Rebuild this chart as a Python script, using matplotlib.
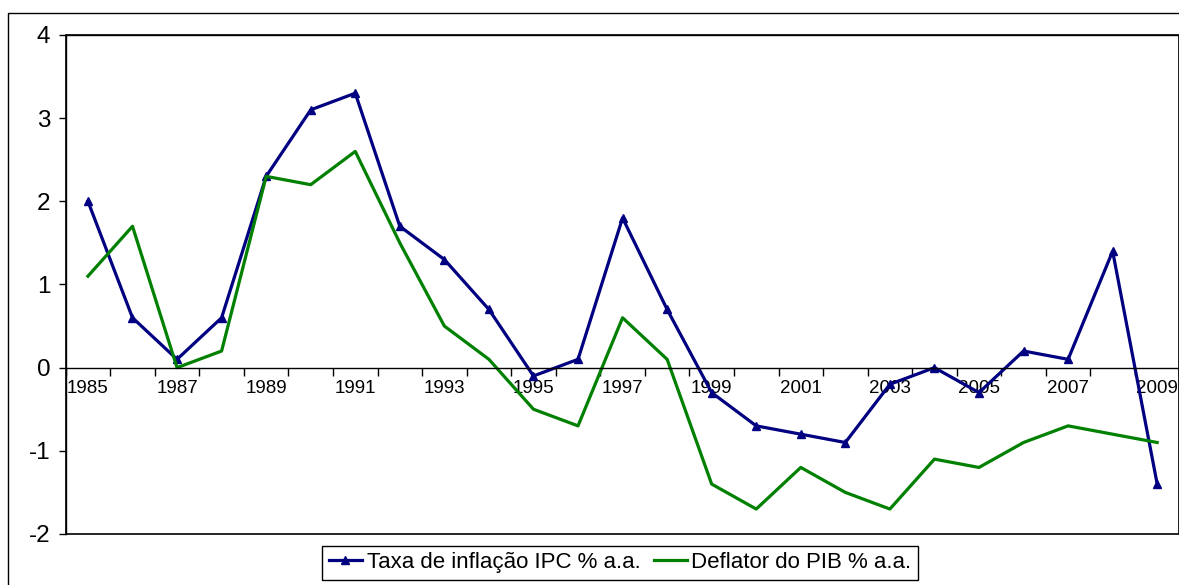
import numpy as np
import matplotlib
matplotlib.use('Agg')
import matplotlib.pyplot as plt
from matplotlib.patches import Rectangle

plt.rcParams['font.family'] = ['Liberation Sans', 'DejaVu Sans']
plt.rcParams['axes.unicode_minus'] = False

# dados
anos = list(range(1985, 2010))
ipc = [2.0, 0.6, 0.1, 0.6, 2.3, 3.1, 3.3, 1.7, 1.3, 0.7, -0.1, 0.1, 1.8,
       0.7, -0.3, -0.7, -0.8, -0.9, -0.2, 0.0, -0.3, 0.2, 0.1, 1.4, -1.4]
deflator = [1.1, 1.7, 0.0, 0.2, 2.3, 2.2, 2.6, 1.5, 0.5, 0.1, -0.5, -0.7, 0.6,
            0.1, -1.4, -1.7, -1.2, -1.5, -1.7, -1.1, -1.2, -0.9, -0.7, -0.8, -0.9]
nome_ipc = 'Taxa de inflação IPC % a.a.'
nome_deflator = 'Deflator do PIB % a.a.'

x = np.arange(len(anos))

fig = plt.figure(figsize=(11.79, 5.85), dpi=100)
ax = fig.add_axes([0.0557, 0.0872, 0.9447, 0.853])

ax.plot(x, ipc, color='#000080', lw=2.3, marker='^', markersize=5.5, label=nome_ipc)
ax.plot(x, deflator, color='#008000', lw=2.3, label=nome_deflator)

ax.set_xlim(-0.5, len(anos) - 0.5)
ax.set_ylim(-2, 4)

# eixo x cruzando em zero, estilo Excel
ax.spines['bottom'].set_position(('data', 0))
ax.spines['bottom'].set_linewidth(1)
for s in ['left', 'top', 'right']:
    ax.spines[s].set_linewidth(1)
ax.add_patch(Rectangle((0, 0), 1, 1, transform=ax.transAxes, fill=False,
                       ec='black', lw=1.2, clip_on=False))

ax.set_xticks(x[::2])
ax.set_xticklabels([str(a) for a in anos[::2]], fontsize=13.5)
ax.set_xticks(np.arange(-0.5, len(anos)), minor=True)
ax.tick_params(axis='x', which='major', length=0, pad=9)
ax.tick_params(axis='x', which='minor', length=5.5, width=1, direction='out')

ax.set_yticks(range(-2, 5))
ax.tick_params(axis='y', length=5, width=1, direction='out', labelsize=17.5, pad=6)

# moldura externa do gráfico
fig.add_artist(Rectangle((8 / 1179, -0.1), 1.2, 0.978 + 0.1, transform=fig.transFigure,
                         fill=False, ec='black', lw=1, clip_on=False))

leg = fig.legend(loc='center', bbox_to_anchor=(0.526, 0.038), ncol=2, fontsize=16,
                 frameon=True, fancybox=False, edgecolor='black', framealpha=1,
                 handlelength=1.5, handletextpad=0.2, columnspacing=0.6,
                 borderpad=0.3, borderaxespad=0)
leg.get_frame().set_linewidth(1)

fig.savefig('out.png', dpi=100)
